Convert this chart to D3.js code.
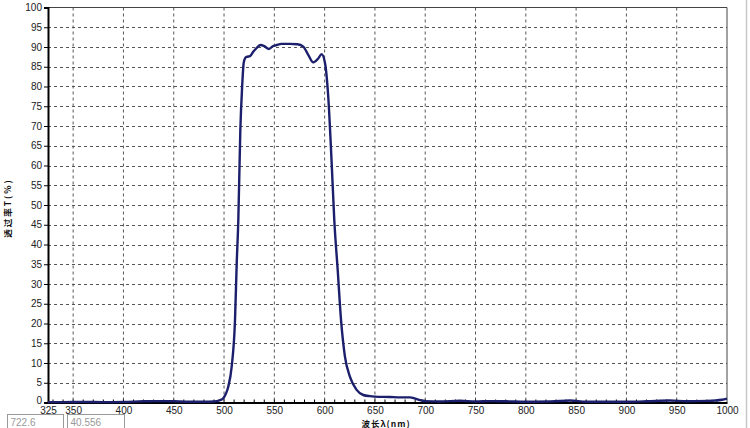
<!DOCTYPE html>
<html><head><meta charset="utf-8">
<script src="https://cdn.jsdelivr.net/npm/d3@7"></script>
<style>
html,body{margin:0;padding:0;background:#fff;}
svg{display:block;font-family:"Liberation Sans",Arial,sans-serif;}
</style></head>
<body><svg id="c" width="750" height="428"></svg>
<script>
// wavelength (nm)
const wavelengths = [325,340,360,380,400,420,435,450,465,480,490,496,499.3,502,504.2,507.6,510.9,512.6,514.2,516.2,518,519.5,521,522.5,525.8,529,532.5,536.4,540,544.7,548.5,552.3,557,565,573,578.8,583.7,588.7,593.7,597,600.4,603.6,607,609.6,613,616.3,620.2,625.2,631.8,638.4,645,650,665,675,685,690,695,700,715,734.5,750,765,780,800,825,844,860,880,900,920,943,960,980,995,1000];
// transmittance T (%)
const transmittance = [0.1,0.1,0.15,0.1,0.15,0.3,0.35,0.3,0.2,0.2,0.25,0.6,1.1,2.3,4,9.1,20.9,35.2,46.2,69,80,85.9,87.2,87.5,87.7,88.8,89.8,90.5,90.2,89.5,90.2,90.5,90.8,90.8,90.7,90.1,88,86.1,87.1,88.2,85.9,77.4,60.6,46.2,33.5,20.9,11.6,6.5,3.2,1.9,1.6,1.5,1.4,1.3,1.3,1.0,0.6,0.35,0.25,0.45,0.25,0.35,0.3,0.2,0.25,0.5,0.2,0.2,0.2,0.3,0.5,0.3,0.4,0.7,1.0];
const xTickValues = [325,350,400,450,500,550,600,650,700,750,800,850,900,950,1000];
const yTickValues = [0,5,10,15,20,25,30,35,40,45,50,55,60,65,70,75,80,85,90,95,100];
const xTitle = "波长λ(nm)";
const yTitle = "透过率T(%)";
const readouts = ["722.6","40.556"];

const svg = d3.select("#c");
const x = d3.scaleLinear().domain([325,1000]).range([48,727]);
const y = d3.scaleLinear().domain([0,100]).range([402.5,7.5]);

// outer frame line
svg.append("line").attr("x1",746.5).attr("x2",746.5).attr("y1",0).attr("y2",428).attr("stroke","#c8c8c8").attr("stroke-width",1.5);

// grid
const g = svg.append("g");
g.selectAll("line.vg").data(xTickValues.filter(v=>v>325&&v<1000)).enter().append("line")
  .attr("x1",d=>x(d)).attr("x2",d=>x(d)).attr("y1",y(100)).attr("y2",y(0))
  .attr("stroke","#555").attr("stroke-width",1).attr("stroke-dasharray","3,3");
g.selectAll("line.hg").data(yTickValues.filter(v=>v>0&&v<100)).enter().append("line")
  .attr("x1",x(325)).attr("x2",x(1000)).attr("y1",d=>Math.round(y(d))+0.5).attr("y2",d=>Math.round(y(d))+0.5)
  .attr("stroke","#555").attr("stroke-width",1).attr("stroke-dasharray","3,3");

// top & right frame
svg.append("line").attr("x1",x(325)).attr("x2",x(1000)).attr("y1",y(100)).attr("y2",y(100)).attr("stroke","#444").attr("stroke-width",1);
svg.append("line").attr("x1",x(1000)).attr("x2",x(1000)).attr("y1",y(100)).attr("y2",y(0)).attr("stroke","#444").attr("stroke-width",1);

// axes
const xAxis = d3.axisBottom(x).tickValues(xTickValues).tickSize(0).tickPadding(4).tickFormat(d3.format("d"));
const yAxis = d3.axisLeft(y).tickValues(yTickValues).tickSize(4).tickPadding(2).tickFormat(d3.format("d"));
const ax = svg.append("g").attr("transform",`translate(0,${y(0)})`).call(xAxis);
const ay = svg.append("g").attr("transform",`translate(${x(325)},0)`).call(yAxis);
[ax,ay].forEach(a=>{
  a.select(".domain").attr("stroke","#000").attr("stroke-width",2);
  a.selectAll("text").attr("fill","#222").style("font-size","10px");
  a.selectAll(".tick line").attr("stroke","#000");
});
ay.selectAll(".tick text").filter(d=>d===0).attr("dy","0.05em");
// minor x ticks
svg.append("g").selectAll("line").data(d3.range(330,1000,10)).enter().append("line")
  .attr("x1",d=>x(d)).attr("x2",d=>x(d)).attr("y1",y(0)).attr("y2",y(0)-3).attr("stroke","#000").attr("stroke-width",1);

// curve
const line = d3.line().x((d,i)=>x(wavelengths[i])).y(d=>y(d)).curve(d3.curveMonotoneX);
svg.append("path").datum(transmittance).attr("d",line).attr("fill","none")
  .attr("stroke","#1c1f6b").attr("stroke-width",2.4).attr("stroke-linejoin","round");

// titles
svg.append("text").attr("x",386).attr("y",427).attr("text-anchor","middle")
  .style("font-size","8.5px").style("font-weight","bold").style("letter-spacing","1px")
  .style("font-family","'Noto Sans CJK SC',sans-serif").attr("fill","#111").text(xTitle);
svg.append("text").attr("transform","translate(11,208) rotate(-90)").attr("text-anchor","middle")
  .style("font-size","8.5px").style("font-weight","bold").style("letter-spacing","2px")
  .style("font-family","'Noto Sans CJK SC',sans-serif").attr("fill","#111").text(yTitle);

// readout boxes
const boxes = [{x:7.5,w:56},{x:67.5,w:57}];
readouts.forEach((t,i)=>{
  svg.append("rect").attr("x",boxes[i].x).attr("y",414.5).attr("width",boxes[i].w).attr("height",16)
    .attr("fill","#fff").attr("stroke","#999").attr("stroke-width",1);
  svg.append("text").attr("x",boxes[i].x+3).attr("y",426).style("font-size","10px").attr("fill","#999").text(t);
});
</script></body></html>
